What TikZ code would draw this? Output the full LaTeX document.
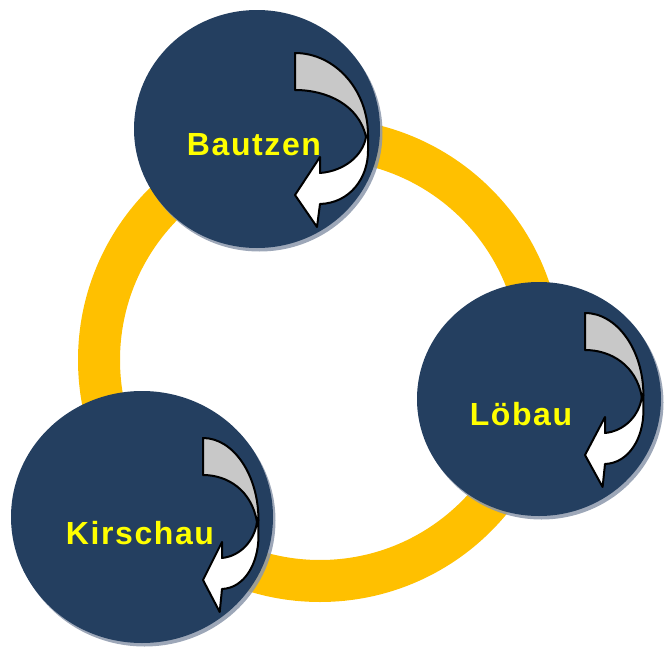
\documentclass[tikz,border=0pt]{standalone}
\usepackage{fontspec}
\setmainfont{Liberation Sans}
\newfontfamily\townfont[LetterSpace=5]{Liberation Sans}
\usetikzlibrary{shadows, shapes.geometric}
\definecolor{ringyellow}{RGB}{255,192,0}
\definecolor{townblue}{RGB}{36,63,96}
\definecolor{townshadow}{RGB}{140,152,172}
\definecolor{townyellow}{RGB}{255,255,0}
\definecolor{backgray}{RGB}{200,200,200}
\tikzset{
  town/.style n args={2}{ellipse, fill=townblue, inner sep=0pt,
    minimum width=#1, minimum height=#2,
    drop shadow={shadow xshift=2.5pt, shadow yshift=-3.5pt, fill=townshadow, opacity=.85}},
  townname/.style={anchor=base, text=townyellow, inner sep=0pt,
    font=\townfont\bfseries\fontsize{32}{38}\selectfont},
  turn/.style={draw=black, line width=2pt, line join=round}
}
% curved arrow, tail corner at (#1,#2), xscale #3
\newcommand\turnarrow[3]{%
  \begin{scope}[shift={(#1,#2)}, xscale=#3]
    \filldraw[turn, fill=backgray] (0,0) .. controls (40,0) and (73,37) .. (73,82)
      -- (71,84) .. controls (64,52) and (32,37) .. (0,37) -- cycle;
    \filldraw[turn, fill=white] (71,84) .. controls (68,102) and (50,118) .. (25,120)
      -- (25,104) -- (0,142) -- (22,174) -- (25,151)
      .. controls (55,150) and (73,125) .. (73,98) -- (73,82) -- cycle;
  \end{scope}}
\begin{document}
\begin{tikzpicture}[x=1pt, y=-1pt, line join=round]
  \useasboundingbox (0,0) rectangle (665,648);
  % ring
  \coordinate (hub) at (320,360);
  \draw[ringyellow, line width=42pt] (hub) circle [radius=221];
  % towns
  \node[town={246pt}{238pt}] (bautzen) at (257,129) {};
  \node[town={244pt}{234pt}] (loebau) at (539,399) {};
  \node[town={262pt}{252pt}] (kirschau) at (142,517) {};
  \node[townname] (bautzen-name) at (254,155) {Bautzen};
  \node[townname] (loebau-name) at (521,425) {Löbau};
  \node[townname] (kirschau-name) at (140,544) {Kirschau};
  % arrows
  \turnarrow{295}{53}{1}
  \turnarrow{585}{313}{.8}
  \turnarrow{203}{438}{.76}
\end{tikzpicture}
\end{document}
